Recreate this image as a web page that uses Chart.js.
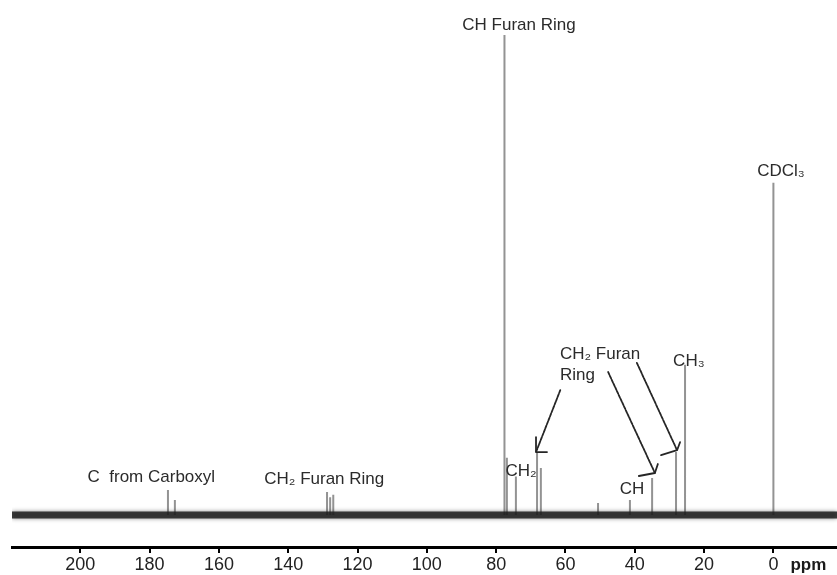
<!DOCTYPE html>
<html>
<head>
<meta charset="utf-8">
<script src="https://cdn.jsdelivr.net/npm/chart.js@4.4.1/dist/chart.umd.min.js"></script>
<style>
  html, body { margin: 0; padding: 0; background: #fff; overflow: hidden; }
  #wrap { width: 837px; height: 575px; }
</style>
</head>
<body>
<div id="wrap"><canvas id="spectrum" width="837" height="575"></canvas></div>
<script>
// 13C NMR spectrum: peak chemical shifts (ppm) and relative intensities (tallest = 100)
const PEAK_PPM    = [174.7, 172.7, 128.8, 127.9, 127.0, 77.6, 76.9, 74.3, 68.2, 67.1, 50.6, 41.4, 35.0, 28.1, 25.5, 0.0];
const PEAK_HEIGHT = [5.2,   3.1,   4.8,   3.7,   4.2,   100,  11.9, 8.0,  13.1, 9.8,  2.5,  3.1,  7.7,  13.1, 31.3, 69.2];

// Axis ticks and visible ranges
const TICK_PPM = [200, 180, 160, 140, 120, 100, 80, 60, 40, 20, 0];
const PPM_RANGE = [-18.35, 219.7];
const INTENSITY_RANGE = [-6.67, 107.3];

// Peak assignments (text, shift, intensity level of the label)
const LABEL_TEXT = ['CH Furan Ring', 'CDCl\u2083', 'CH\u2083', 'CH\u2082 Furan', 'Ring', 'CH\u2082', 'CH', 'C  from Carboxyl', 'CH\u2082 Furan Ring'];
const LABEL_PPM  = [73.4, -2.2, 24.4, 61.6, 61.6, 72.8, 40.8, 179.5, 129.6];
const LABEL_INT  = [102.1, 71.7, 32.1, 33.5, 29.2, 9.0, 5.4, 7.9, 7.5];

// Arrows from the "CH2 Furan Ring" label to its peaks (start and tip in ppm / intensity)
const ARROW_FROM_PPM = [61.5, 47.7, 39.4];
const ARROW_FROM_INT = [26.0, 29.8, 31.7];
const ARROW_TO_PPM   = [68.5, 34.2, 27.8];
const ARROW_TO_INT   = [13.1, 8.75, 13.5];

// Build the stick spectrum: one vertical stroke per peak, separated by gaps
const peakPoints = [];
PEAK_PPM.forEach((p, i) => {
  peakPoints.push({ x: p, y: 0 }, { x: p, y: PEAK_HEIGHT[i] }, { x: p, y: null });
});
const baselinePoints = [{ x: PPM_RANGE[0], y: 0 }, { x: PPM_RANGE[1], y: 0 }];

const FONT = '"Liberation Sans", Arial, sans-serif';

// Arrowhead arm offsets in pixels relative to each tip
const ARROW_ARMS = [
  [[0, -15], [11, 0]],
  [[-16, 3], [3, -9]],
  [[-16, 5], [3, -8]]
];

// Soft, smeared look for the noisy baseline band
const baselineHaze = {
  id: 'baselineHaze',
  beforeDatasetDraw(chart, args) {
    if (args.index !== 0) return;
    const ctx = chart.ctx;
    ctx.save();
    ctx.shadowColor = 'rgba(0,0,0,0.55)';
    ctx.shadowBlur = 4;
  },
  afterDatasetDraw(chart, args) {
    if (args.index !== 0) return;
    chart.ctx.restore();
  }
};

const annotationPlugin = {
  id: 'assignments',
  afterDatasetsDraw(chart) {
    const { ctx, scales: { x, y } } = chart;
    ctx.save();
    // arrows
    ctx.strokeStyle = '#262626';
    ctx.lineWidth = 1.8;
    ctx.lineCap = 'round';
    ctx.lineJoin = 'round';
    ARROW_FROM_PPM.forEach((_, i) => {
      const x0 = x.getPixelForValue(ARROW_FROM_PPM[i]);
      const y0 = y.getPixelForValue(ARROW_FROM_INT[i]);
      const x1 = x.getPixelForValue(ARROW_TO_PPM[i]);
      const y1 = y.getPixelForValue(ARROW_TO_INT[i]);
      ctx.setLineDash([3, 1.2]);
      ctx.beginPath();
      ctx.moveTo(x0, y0);
      ctx.lineTo(x1, y1);
      ctx.stroke();
      ctx.setLineDash([]);
      ctx.beginPath();
      ARROW_ARMS[i].forEach(([dx, dy]) => {
        ctx.moveTo(x1, y1);
        ctx.lineTo(x1 + dx, y1 + dy);
      });
      ctx.stroke();
    });
    // labels
    ctx.fillStyle = '#2b2b2b';
    ctx.font = '17px ' + FONT;
    ctx.textBaseline = 'middle';
    LABEL_TEXT.forEach((t, i) => {
      ctx.textAlign = (t === 'CH\u2082 Furan' || t === 'Ring') ? 'left' : 'center';
      ctx.fillText(t, x.getPixelForValue(LABEL_PPM[i]), y.getPixelForValue(LABEL_INT[i]));
    });
    // unit next to the last tick label
    ctx.font = 'bold 17px ' + FONT;
    ctx.fillStyle = '#1a1a1a';
    ctx.textAlign = 'left';
    ctx.fillText('ppm', x.getPixelForValue(0) + 17, x.bottom - 10);
    ctx.restore();
  }
};

new Chart(document.getElementById('spectrum'), {
  type: 'line',
  data: {
    datasets: [
      {
        label: 'baseline',
        data: baselinePoints,
        borderColor: 'rgba(30,30,30,0.85)',
        borderWidth: 7,
        pointRadius: 0,
        order: 0
      },
      {
        label: '13C',
        data: peakPoints,
        borderColor: 'rgba(135,135,135,0.9)',
        borderWidth: 2,
        pointRadius: 0,
        spanGaps: false,
        tension: 0,
        order: 1
      }
    ]
  },
  options: {
    responsive: false,
    animation: false,
    events: [],
    layout: { padding: { left: 12, right: 0, top: 0, bottom: 0 } },
    plugins: { legend: { display: false }, tooltip: { enabled: false } },
    scales: {
      x: {
        type: 'linear',
        reverse: true,
        min: PPM_RANGE[0],
        max: PPM_RANGE[1],
        afterBuildTicks: s => { s.ticks = TICK_PPM.map(v => ({ value: v })); },
        afterFit: s => { s.height = 28; },
        border: { display: true, color: '#000', width: 3 },
        grid: { drawOnChartArea: false, drawTicks: true, tickLength: 6, color: '#000', lineWidth: 2 },
        ticks: {
          color: '#222',
          font: { family: '"Liberation Sans Narrow", "Liberation Sans", Arial, sans-serif', size: 18 },
          padding: 1,
          maxRotation: 0,
          autoSkip: false
        }
      },
      y: {
        display: false,
        min: INTENSITY_RANGE[0],
        max: INTENSITY_RANGE[1]
      }
    }
  },
  plugins: [baselineHaze, annotationPlugin]
});
</script>
</body>
</html>
